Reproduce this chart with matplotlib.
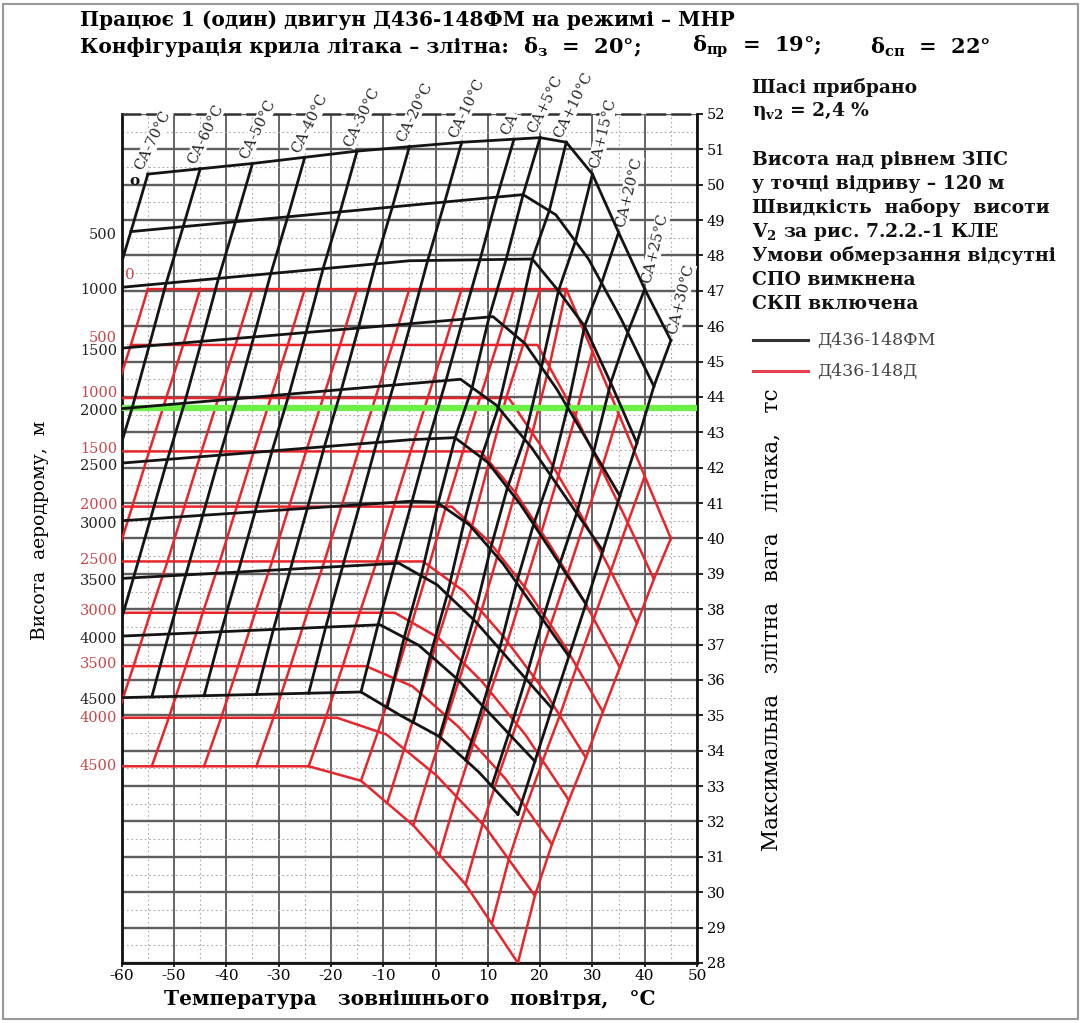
import numpy as np
import matplotlib.pyplot as plt
from matplotlib.lines import Line2D
from matplotlib.patches import Rectangle
from matplotlib.ticker import MultipleLocator
from matplotlib.transforms import blended_transform_factory

plt.rcParams['font.family'] = ['DejaVu Serif']
plt.rcParams['mathtext.fontset'] = 'dejavuserif'
plt.rcParams['mathtext.default'] = 'bf'

# висоти аеродрому, м
altitudes = [0, 500, 1000, 1500, 2000, 2500, 3000, 3500, 4000, 4500]
alt_labels = ['0', '500', '1000', '1500', '2000', '2500', '3000', '3500', '4000', '4500']

# відхилення від СА, °C
ca_devs = [-70, -60, -50, -40, -30, -20, -10, 0, 5, 10, 15, 20, 25, 30]
ca_labels = ['СА-70°С', 'СА-60°С', 'СА-50°С', 'СА-40°С', 'СА-30°С', 'СА-20°С',
             'СА-10°С', 'СА', 'СА+5°С', 'СА+10°С', 'СА+15°С', 'СА+20°С',
             'СА+25°С', 'СА+30°С']

# Д436-148ФМ (чорні): температура / вага по кожній висоті
fm_temp = [
    [-55, -35, -15, 5, 20, 25, 30, 35, 40, 45],
    [-60, 16.75, 23, 29.25, 35.5, 41.75],
    [-60, -5, 18.5, 23.5, 28.5, 33.5, 38.5],
    [-60, 11, 17.1, 23.1, 29.2, 35.25],
    [-60, 4.8, 11.6, 18.4, 25.2, 32],
    [-60, -4.9, 3.7, 10, 16.2, 22.5, 28.75],
    [-60, -4.9, 0.2, 6.5, 12.9, 19.2, 25.5],
    [-60, -7, 0.3, 7.6, 14.9, 22.25],
    [-60, -10.6, -3.2, 4.2, 11.6, 19],
    [-60, -14.25, -6.75, 0.75, 8.25, 15.75],
]
fm_mass = [
    [50.3, 50.6, 50.95, 51.2, 51.33, 51.2, 50.3, 48.65, 47.05, 45.6],
    [48.65, 49.72, 49.15, 47.9, 46.2, 44.3],
    [47.1, 47.85, 47.9, 47.0, 46.0, 44.4, 42.7],
    [45.38, 46.27, 45.51, 44.24, 42.72, 41.2],
    [43.67, 44.5, 43.77, 42.56, 41.1, 39.65],
    [42.13, 42.79, 42.85, 42.15, 40.97, 39.56, 38.15],
    [40.5, 41.05, 41.03, 40.38, 39.29, 37.98, 36.67],
    [38.87, 39.3, 38.69, 37.66, 36.43, 35.2],
    [37.24, 37.56, 36.98, 36.02, 34.86, 33.7],
    [35.5, 35.66, 35.0, 34.4, 33.4, 32.2],
]

# Д436-148Д (червоні)
d_temp = [
    [-55, 25, 30, 35, 40, 45],
    [-60, 19.5, 25.1, 30.6, 36.2, 41.75],
    [-60, 14, 20.1, 26.3, 32.4, 38.5],
    [-60, 8.6, 15.3, 21.9, 28.6, 35.25],
    [-60, 3.1, 10.3, 17.6, 24.8, 32],
    [-60, -2.4, 5.4, 13.2, 21.0, 28.75],
    [-60, -7.8, 0.5, 8.9, 17.2, 25.5],
    [-60, -13.3, -4.4, 4.5, 13.4, 22.25],
    [-60, -18.8, -9.4, 0.1, 9.6, 19],
    [-60, -24.25, -14.25, -4.25, 5.75, 15.75],
]
d_mass = [
    [47.05, 47.05, 45.29, 43.53, 41.76, 40.0],
    [45.47, 45.47, 43.95, 42.31, 40.62, 38.85],
    [43.97, 43.97, 42.63, 41.07, 39.4, 37.6],
    [42.46, 42.46, 41.29, 39.81, 38.18, 36.35],
    [40.9, 40.9, 39.9, 38.52, 36.94, 35.1],
    [39.35, 39.35, 38.51, 37.19, 35.65, 33.8],
    [37.9, 37.9, 37.2, 35.95, 34.45, 32.6],
    [36.39, 36.39, 35.82, 34.66, 33.2, 31.35],
    [34.93, 34.93, 34.46, 33.31, 31.83, 29.9],
    [33.56, 33.56, 33.15, 31.89, 30.22, 28.0],
]

green_level = 43.7
x_ticks = [-60, -50, -40, -30, -20, -10, 0, 10, 20, 30, 40, 50]
y_ticks = list(range(28, 53))

BLACK = '#141414'
RED = '#e8252b'


def isa_temp(h):
    # температура стандартної атмосфери на висоті h
    return 15 - 0.0065 * h


def mass_at(tt, ww, t):
    if t < tt[0]:
        k = (ww[1] - ww[0]) / (tt[1] - tt[0])
        return ww[0] + k * (t - tt[0])
    return float(np.interp(t, tt, ww))


fig = plt.figure(figsize=(10.81, 10.23), dpi=100)
ax = fig.add_axes([0.1126, 0.0587, 0.5322, 0.8299])
ax.set_xlim(-60, 50)
ax.set_ylim(28, 52)

# сітка
ax.xaxis.set_major_locator(MultipleLocator(10))
ax.xaxis.set_minor_locator(MultipleLocator(5))
ax.yaxis.set_major_locator(MultipleLocator(1))
ax.yaxis.set_minor_locator(MultipleLocator(0.5))
ax.grid(which='major', axis='x', color='#3a3a3a', lw=1.1)
ax.grid(which='major', axis='y', color='#5e5e5e', lw=1.7)
ax.grid(which='minor', color='#a8a8a8', lw=0.8, ls=(0, (1.5, 2.5)))
ax.set_axisbelow(True)

for s in ['left', 'right', 'bottom']:
    ax.spines[s].set_linewidth(2.0)
    ax.spines[s].set_color('#111111')
ax.spines['top'].set_linestyle((0, (7, 3)))
ax.spines['top'].set_linewidth(1.8)
ax.spines['top'].set_color('#333333')


def draw_family(temps, masses, color, lw, z):
    for h, tt, ww in zip(altitudes, temps, masses):
        t0 = max(-60, isa_temp(h) - 70)
        xs = [t0] + [t for t in tt if t > t0]
        ys = [mass_at(tt, ww, t) for t in xs]
        ax.plot(xs, ys, color=color, lw=lw, zorder=z)
    for d in ca_devs:
        xs = [isa_temp(h) + d for h in altitudes]
        ys = [mass_at(tt, ww, x) for tt, ww, x in zip(temps, masses, xs)]
        ax.plot(xs, ys, color=color, lw=lw, zorder=z)


draw_family(d_temp, d_mass, RED, 1.8, 3)
ax.axhline(green_level, color='#6cf046', lw=4.5, zorder=3.5)
draw_family(fm_temp, fm_mass, BLACK, 2.0, 4)

# підписи ліній СА
for d, lab in zip(ca_devs, ca_labels):
    t = isa_temp(0) + d
    w = mass_at(fm_temp[0], fm_mass[0], t)
    if d <= 10:
        ax.annotate(lab, xy=(t, w), xytext=(-2, 1.5), textcoords='offset points',
                    rotation=64, rotation_mode='anchor', ha='left', va='bottom',
                    fontsize=10.5, color='#222222', annotation_clip=False,
                    zorder=3.8, bbox=dict(fc='white', ec='none', pad=0.4))
    else:
        ax.annotate(lab, xy=(t, w), xytext=(6, 3), textcoords='offset points',
                    rotation=76, rotation_mode='anchor', ha='left', va='bottom',
                    fontsize=10.5, color='#222222', annotation_clip=False,
                    zorder=3.8, bbox=dict(fc='white', ec='none', pad=0.4))

# осі
ax.set_xticks(x_ticks)
ax.set_xticklabels([str(v) for v in x_ticks])
ax.yaxis.tick_right()
ax.set_yticks(y_ticks)
ax.set_yticklabels([str(v) for v in y_ticks])
ax.tick_params(axis='x', which='major', labelsize=11, length=3, width=1.2, pad=1.5)
ax.tick_params(axis='y', which='major', labelsize=10.5, length=4, width=1.2, pad=3)
ax.tick_params(which='minor', length=0)

# шкали висоти ліворуч (червоні підписи трохи зсунуті, щоб не налазили)
red_label_shift = [0.2, 0.15, 0.08, 0.05, 0.05, 0.05, 0.05, 0.0, 0.0]
trans = blended_transform_factory(ax.transAxes, ax.transData)
for lab, ww in zip(alt_labels[1:], fm_mass[1:]):
    ax.text(-0.008, ww[0] - 0.08, lab, transform=trans, ha='right', va='center',
            fontsize=10.5, color='#222222')
for lab, ww, dy in zip(alt_labels[1:], d_mass[1:], red_label_shift):
    ax.text(-0.008, ww[0] + dy, lab, transform=trans, ha='right', va='center',
            fontsize=10.5, color='#c64848')
ax.text(-57.6, 50.1, 'o', ha='center', va='center', fontsize=11,
        fontweight='bold', color='#111111')
ax.text(-58.5, 47.45, '0', ha='center', va='center', fontsize=11, color='#c64848')

fig.text(0.037, 0.482, 'Висота  аеродрому,  м', rotation=90, ha='center',
         va='center', fontsize=13.5)
fig.text(0.714, 0.394, 'Максимальна   злітна   вага   літака,   тс', rotation=90,
         ha='center', va='center', fontsize=15.5)
fig.text(0.379, 0.0235, 'Температура   зовнішнього   повітря,   °С', ha='center',
         va='center', fontsize=14.5, fontweight='bold')

# заголовок
fig.text(0.074, 0.9804, 'Працює 1 (один) двигун Д436-148ФМ на режимі – МНР',
         ha='left', va='center', fontsize=14.5, fontweight='bold')
fig.text(0.074, 0.954, 'Конфігурація крила літака – злітна:',
         ha='left', va='center', fontsize=14.5, fontweight='bold')
for xf, txt in [(0.484, 'δ$_{з}$  =  20°;'), (0.640, 'δ$_{пр}$  =  19°;'),
                (0.805, 'δ$_{сп}$  =  22°')]:
    fig.text(xf, 0.954, txt, ha='left', va='center', fontsize=15,
             fontweight='bold')

notes = [
    (0.914, 'Шасі прибрано'),
    (0.8915, 'η$_{v2}$ = 2,4 %'),
    (0.8436, 'Висота над рівнем ЗПС'),
    (0.8201, 'у точці відриву – 120 м'),
    (0.7967, 'Швидкість  набору  висоти'),
    (0.7732, 'V$_{2}$ за рис. 7.2.2.-1 КЛЕ'),
    (0.7498, 'Умови обмерзання відсутні'),
    (0.7263, 'СПО вимкнена'),
    (0.7028, 'СКП включена'),
]
for y, txt in notes:
    fig.text(0.6957, y, txt, ha='left', va='center', fontsize=13.5,
             fontweight='bold', color='#111111')

# легенда
fig.add_artist(Line2D([0.697, 0.747], [0.6676, 0.6676], color='#333333', lw=2.2,
                      transform=fig.transFigure))
fig.add_artist(Line2D([0.697, 0.747], [0.6373, 0.6373], color='#e8404f', lw=2.2,
                      transform=fig.transFigure))
fig.text(0.7558, 0.6676, 'Д436-148ФМ', ha='left', va='center', fontsize=12.5,
         color='#444444')
fig.text(0.7558, 0.6373, 'Д436-148Д', ha='left', va='center', fontsize=12.5,
         color='#444444')

fig.add_artist(Rectangle((0.003, 0.004), 0.994, 0.992, transform=fig.transFigure,
                         fill=False, ec='#9a9a9a', lw=1.5))

fig.savefig('out.png', dpi=100)
